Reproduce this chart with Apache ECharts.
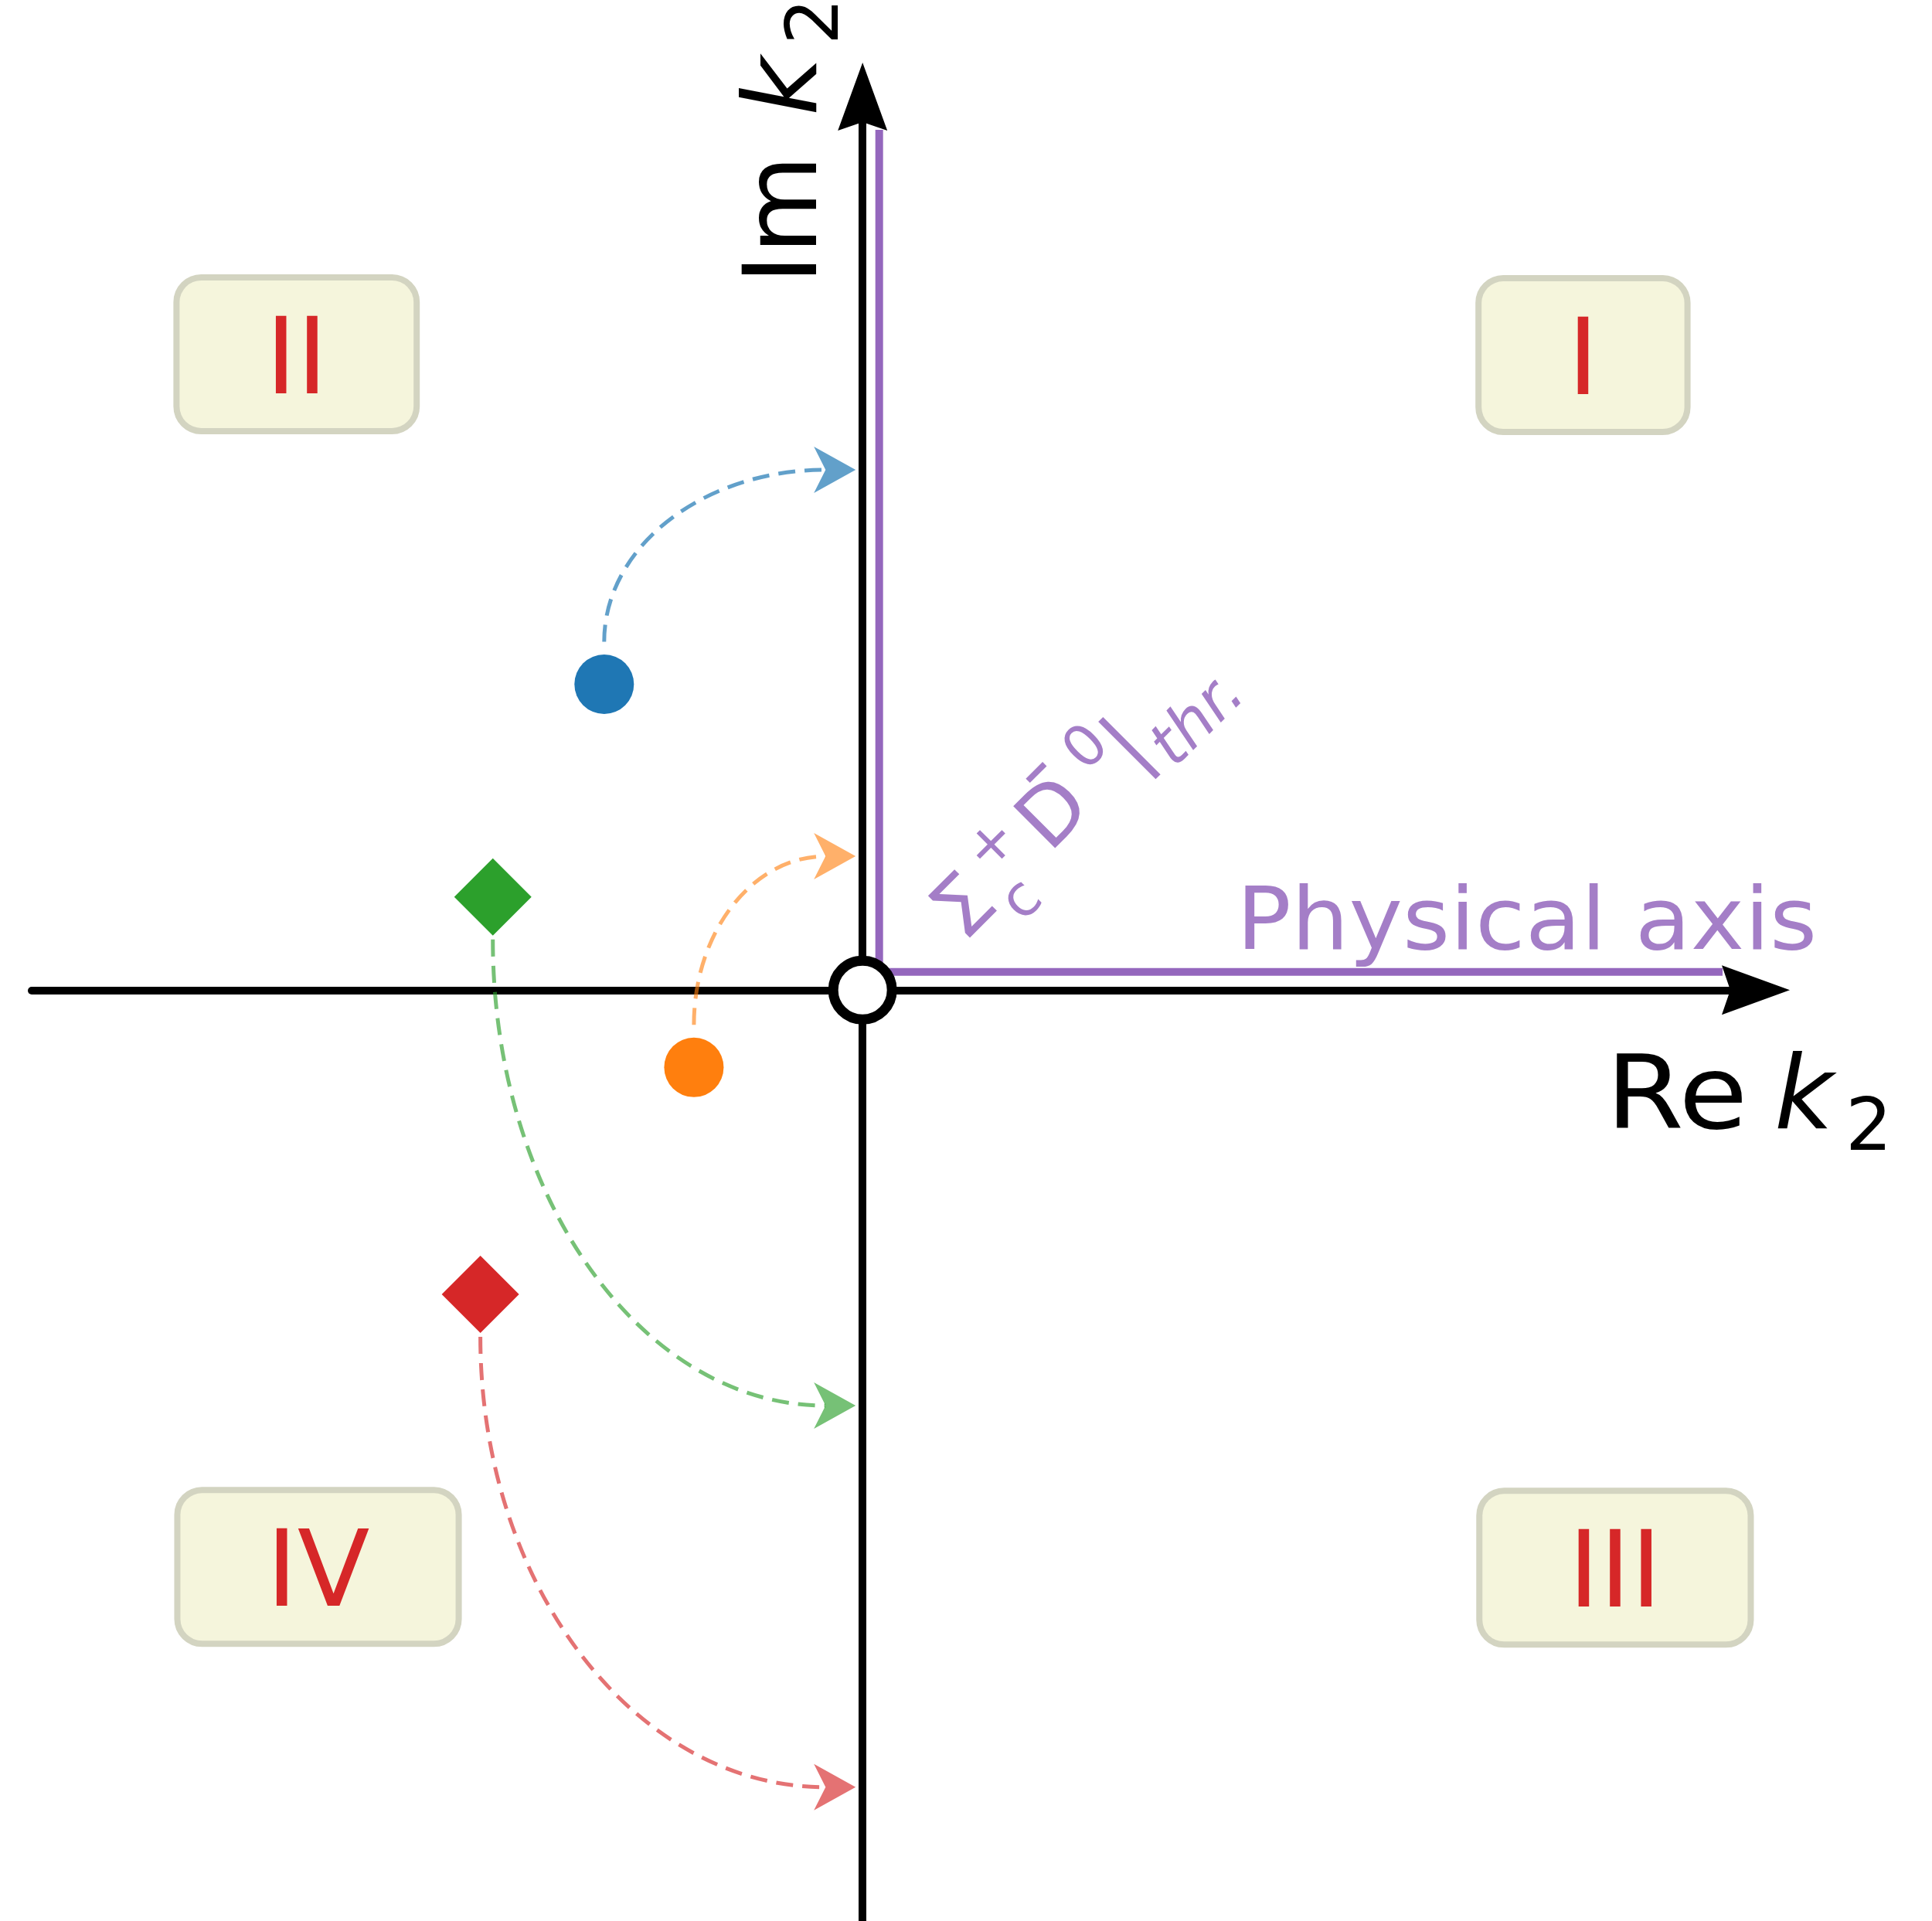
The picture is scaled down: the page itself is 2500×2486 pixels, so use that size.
<!DOCTYPE html>
<html>
<head>
<meta charset="utf-8">
<title>Complex k2 plane</title>
<script src="https://cdn.jsdelivr.net/npm/echarts@6/dist/echarts.min.js"></script>
<style>
  html, body { margin: 0; padding: 0; background: #ffffff; }
  #chart { width: 2500px; height: 2486px; }
</style>
</head>
<body>
<div id="chart"></div>
<script>
// Axis ranges of the k2 plane (Re k2 horizontal, Im k2 vertical)
const reRange = [-10, 10.75];
const imRange = [-11.2, 10.75];

// Riemann-sheet labels, anchored at the left edge of each box
const quadrantNames = ['I', 'II', 'III', 'IV'];
const quadrantRe = [7.45, -8.22, 7.46, -8.21];
const quadrantIm = [7.64, 7.65, -6.95, -6.94];

// Poles drawn as circles (blue, orange) and diamonds (green, red)
const circleRe = [-3.11, -2.03];
const circleIm = [3.68, -0.93];
const diamondRe = [-4.45, -4.60];
const diamondIm = [1.12, -3.66];

// Trajectories: from each pole to its end point on the imaginary axis
const arrowFromRe = [-3.11, -2.03, -4.45, -4.60];
const arrowFromIm = [3.68, -0.93, 1.12, -3.66];
const arrowToIm = [6.26, 1.61, -5.00, -9.59];

// Physical axis, drawn just beside the positive imaginary and real axes
const physRe = [0.2, 0.2, 10.35];
const physIm = [10.35, 0.22, 0.22];

const FONT = 'DejaVu Sans';
const PURPLE = '#9467bd';
const MID = 0.29;        // offset from the 'middle' anchor down to the alphabetic baseline, in em
const poleColors = ['#1f77b4', '#ff7f0e', '#2ca02c', '#d62728'];
const arrowColors = ['rgba(31,119,180,0.7)', 'rgba(255,127,14,0.62)', 'rgba(44,160,44,0.65)', 'rgba(214,39,40,0.65)'];
const axisArrow = 'path://M32,0 L64,88 L32,77 L0,88 Z';

const START_GAP = 55;   // gap between marker centre and start of the dashed path
const TIP_GAP = 9;      // gap between arrow tip and the imaginary axis
const HEAD_LEN = 54;
const HEAD_W = 60;
const KAPPA = 0.5523;   // cubic approximation of a quarter ellipse

// Dashed elliptical connector: leaves the pole vertically, arrives horizontally
function renderTrajectory(params, api) {
  const from = api.coord([api.value(0), api.value(1)]);
  const to = api.coord([0, api.value(2)]);
  const color = arrowColors[api.value(3)];
  const dir = to[1] < from[1] ? -1 : 1;
  const x1 = from[0];
  const y1 = from[1] + dir * START_GAP;
  const tipX = to[0] - TIP_GAP;
  const ty = to[1];
  const endX = tipX - HEAD_LEN * 0.72;
  return {
    type: 'group',
    children: [
      {
        type: 'bezierCurve',
        shape: {
          x1: x1, y1: y1, x2: endX, y2: ty,
          cpx1: x1, cpy1: y1 + KAPPA * (ty - y1),
          cpx2: endX + KAPPA * (x1 - endX), cpy2: ty
        },
        style: { stroke: color, lineWidth: 5, lineDash: [22, 12], fill: 'none' }
      },
      {
        type: 'polygon',
        shape: { points: [[tipX, ty], [tipX - HEAD_LEN, ty - HEAD_W / 2], [tipX - HEAD_LEN * 0.72, ty], [tipX - HEAD_LEN, ty + HEAD_W / 2]] },
        style: { fill: color }
      }
    ]
  };
}

function axisOpts(range) {
  return {
    type: 'value',
    min: range[0],
    max: range[1],
    axisLine: {
      show: true,
      onZero: true,
      symbol: ['none', axisArrow],
      symbolSize: [64, 88],
      lineStyle: { color: '#000000', width: 10 }
    },
    axisTick: { show: false },
    axisLabel: { show: false },
    splitLine: { show: false }
  };
}

// Text pieces for "Re k2" / "Im k2" (baseline at local y = 0)
function axisTitle(word, stretch) {
  const F = 132, S = 95;
  return [
    { type: 'text', x: 0, y: -MID * F, scaleX: stretch, style: { text: word, fontFamily: FONT, fontSize: F, fill: '#000', align: 'left', verticalAlign: 'middle' } },
    { type: 'text', x: 218, y: -MID * F, style: { text: 'k', fontFamily: FONT, fontStyle: 'italic', fontSize: F, fill: '#000', align: 'left', verticalAlign: 'middle' } },
    { type: 'text', x: 310, y: 27 - MID * S, style: { text: '2', fontFamily: FONT, fontSize: S, fill: '#000', align: 'left', verticalAlign: 'middle' } }
  ];
}

function purpleText(text, x, base, size, italic, stretch) {
  return {
    type: 'text', x: x, y: base - MID * size, scaleX: stretch || 1,
    style: { text: text, fontFamily: FONT, fontSize: size, fontStyle: italic ? 'italic' : 'normal', fill: PURPLE, opacity: 0.85, align: 'left', verticalAlign: 'middle' }
  };
}

const chart = echarts.init(document.getElementById('chart'), null, { renderer: 'canvas' });

chart.setOption({
  animation: false,
  backgroundColor: '#ffffff',
  grid: { left: 41, right: 228, top: 125, bottom: 0, outerBoundsMode: 'none' },
  xAxis: axisOpts(reRange),
  yAxis: axisOpts(imRange),
  series: [
    {
      name: 'Physical axis',
      type: 'line',
      data: physRe.map((x, i) => [x, physIm[i]]),
      showSymbol: false,
      symbol: 'none',
      lineStyle: { color: PURPLE, width: 10, join: 'miter', cap: 'butt' },
      z: 3,
      silent: true
    },
    {
      name: 'trajectories',
      type: 'custom',
      data: arrowFromRe.map((x, i) => [x, arrowFromIm[i], arrowToIm[i], i]),
      encode: { x: 0, y: 1 },
      renderItem: renderTrajectory,
      z: 4,
      silent: true
    },
    {
      name: 'circle poles',
      type: 'scatter',
      data: circleRe.map((x, i) => ({ value: [x, circleIm[i]], itemStyle: { color: poleColors[i] } })),
      symbol: 'circle',
      symbolSize: 77,
      itemStyle: { opacity: 1 },
      z: 6,
      silent: true
    },
    {
      name: 'diamond poles',
      type: 'scatter',
      data: diamondRe.map((x, i) => ({ value: [x, diamondIm[i]], itemStyle: { color: poleColors[i + 2] } })),
      symbol: 'diamond',
      symbolSize: 100,
      itemStyle: { opacity: 1 },
      z: 6,
      silent: true
    },
    {
      name: 'threshold',
      type: 'scatter',
      data: [[0, 0]],
      symbol: 'circle',
      symbolSize: 76,
      itemStyle: { color: '#ffffff', borderColor: '#000000', borderWidth: 13, opacity: 1 },
      z: 8,
      silent: true
    },
    {
      name: 'sheets',
      type: 'scatter',
      data: quadrantNames.map((n, i) => ({ name: n, value: [quadrantRe[i], quadrantIm[i]] })),
      symbolSize: 0,
      itemStyle: { opacity: 1 },
      silent: true,
      z: 5,
      label: {
        show: true,
        position: 'right',
        distance: 0,
        opacity: 1,
        formatter: p => '{t|' + p.name + '}',
        padding: [63, 111, 33, 111],
        backgroundColor: '#f5f5dc',
        borderColor: '#d3d4c1',
        borderWidth: 8,
        borderRadius: 28,
        rich: {
          t: { color: '#d62728', fontFamily: FONT, fontSize: 137, lineHeight: 95 }
        }
      }
    }
  ],
  graphic: [
    { type: 'group', x: 2078, y: 1464, children: axisTitle('Re', 1.1) },
    { type: 'group', x: 1060, y: 368, rotation: Math.PI / 2, children: axisTitle('Im', 1.0) },
    purpleText('Physical axis', 1600, 1231, 112, false, 1.05),
    {
      type: 'group', x: 1250, y: 1223, rotation: Math.PI / 4,
      children: [
        purpleText('\u03A3', 0, 0, 105, false),
        purpleText('+', 84, -44, 74, false),
        purpleText('c', 72, 34, 74, false),
        purpleText('D', 160, -4, 105, false),
        purpleText('\u00AF', 196, -16, 105, false),
        purpleText('0', 267, -46, 74, false),
        purpleText('|', 312, 0, 105, false),
        purpleText('thr.', 352, 32, 80, true)
      ]
    }
  ]
});
</script>
</body>
</html>
